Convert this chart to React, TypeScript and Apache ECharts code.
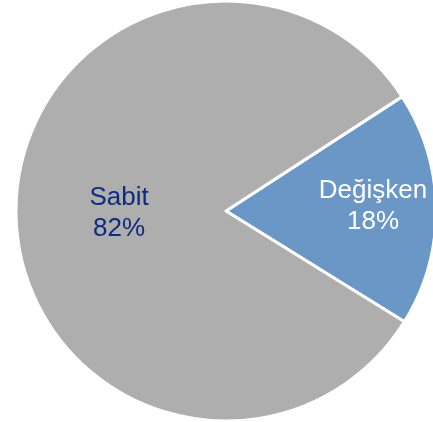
import React, { useEffect, useRef } from "react";
import * as echarts from "echarts";

const categories = ["Değişken", "Sabit"];
const values = [18, 82];
const colors = ["#6B97C7", "#AEAEAE"];
const labelColors = ["#FFFFFF", "#0E2C7E"];

export default function App() {
  const ref = useRef<HTMLDivElement>(null);
  useEffect(() => {
    if (!ref.current) return;
    const chart = echarts.init(ref.current, undefined, { renderer: "svg" });
    chart.setOption({
      animation: false,
      series: [
        {
          type: "pie",
          center: [226, 211],
          radius: [0, 210],
          startAngle: 33,
          clockwise: true,
          avoidLabelOverlap: false,
          labelLine: { show: false },
          itemStyle: { borderColor: "#FFFFFF", borderWidth: 3 },
          data: categories.map((name, i) => ({
            name,
            value: values[i],
            itemStyle: { color: colors[i] },
            label: {
              show: true,
              position: "inside",
              color: labelColors[i],
              fontFamily: "Liberation Sans, Arial, sans-serif",
              fontSize: 26,
              lineHeight: 31,
              formatter: "{b}\n{d}%",
              padding: i === 0 ? [0, 0, 0, 78] : [0, 0, 0, 2],
              offset: i === 0 ? [0, -5] : [0, -1],
            },
          })),
        },
      ],
    });
    return () => chart.dispose();
  }, []);
  return (
    <div
      ref={ref}
      style={{ position: "fixed", left: 0, top: 0, width: 433, height: 422 }}
    />
  );
}
